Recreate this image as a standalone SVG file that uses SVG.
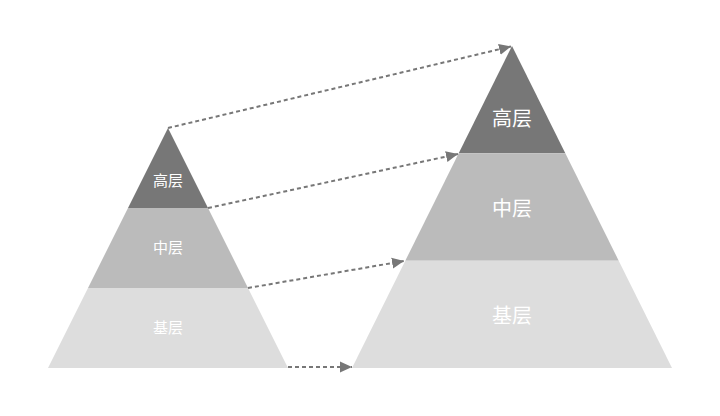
<svg xmlns="http://www.w3.org/2000/svg" width="720" height="416" viewBox="0 0 720 416">
<style>
.lbl{font-family:"Noto Sans CJK SC","Noto Sans",sans-serif;fill:#ffffff;text-anchor:middle;dominant-baseline:central}
.s{font-size:15px}
.b{font-size:20px}
.top{fill:#777777}
.mid{fill:#bbbbbb}
.bot{fill:#dddddd}
.con{stroke:#777777;stroke-width:2;stroke-dasharray:4 3;fill:none}
</style>
<defs>
<marker id="ah" markerUnits="userSpaceOnUse" markerWidth="13" markerHeight="13" viewBox="0 0 13 13" refX="12" refY="6.5" orient="auto">
<path d="M0,1 L12,6.5 L0,12 Z" fill="#777777"/>
</marker>
</defs>
<rect width="720" height="416" fill="#ffffff"/>
<g id="left-top"><polygon class="top" points="168,128 208,208 128,208"/><text class="lbl s" x="168" y="179">高层</text></g>
<g id="left-mid"><polygon class="mid" points="128,208 208,208 248,288 88,288"/><text class="lbl s" x="168" y="246">中层</text></g>
<g id="left-bot"><polygon class="bot" points="88,288 248,288 288,368 48,368"/><text class="lbl s" x="168" y="326">基层</text></g>
<g id="right-top"><polygon class="top" points="512,46 565.3,153.3 458.7,153.3"/><text class="lbl b" x="512" y="117">高层</text></g>
<g id="right-mid"><polygon class="mid" points="458.7,153.3 565.3,153.3 618.7,260.7 405.3,260.7"/><text class="lbl b" x="512" y="207">中层</text></g>
<g id="right-bot"><polygon class="bot" points="405.3,260.7 618.7,260.7 672,368 352,368"/><text class="lbl b" x="512" y="314">基层</text></g>
<g id="connectors">
<line class="con" x1="168" y1="128" x2="511" y2="46.5" marker-end="url(#ah)"/>
<line class="con" x1="208" y1="208" x2="458" y2="154" marker-end="url(#ah)"/>
<line class="con" x1="248" y1="288" x2="404" y2="261" marker-end="url(#ah)"/>
<line class="con" x1="288" y1="367" x2="352" y2="367" marker-end="url(#ah)"/>
</g>
</svg>
